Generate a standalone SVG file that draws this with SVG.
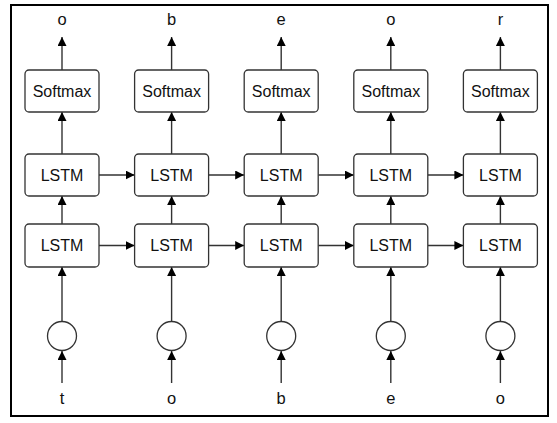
<svg xmlns="http://www.w3.org/2000/svg" width="557" height="423" viewBox="0 0 557 423">
<defs>
<marker id="ah" viewBox="0 0 10 10" refX="10" refY="5" markerWidth="9" markerHeight="9" markerUnits="userSpaceOnUse" orient="auto">
<path d="M0,0 L10,5 L0,10 z" fill="#000"/>
</marker>
<style>
.box{fill:#fff;stroke:#333;stroke-width:1.3}
.lbl{font-family:"Liberation Sans",Arial,sans-serif;font-size:16px;fill:#111;text-anchor:middle}
.io{font-family:"Liberation Sans",Arial,sans-serif;font-size:16.5px;fill:#111;text-anchor:middle}
.c{fill:none;stroke:#333;stroke-width:1.4;marker-end:url(#ah)}
</style>
</defs>
<rect x="0" y="0" width="557" height="423" fill="#fff"/>
<rect x="11" y="5" width="537" height="411" fill="none" stroke="#000" stroke-width="2"/>
<g id="connectors">
<path class="c" d="M62,70 V37"/><path class="c" d="M171.6,70 V37"/><path class="c" d="M281.2,70 V37"/><path class="c" d="M390.8,70 V37"/><path class="c" d="M500.4,70 V37"/>
<path class="c" d="M62,154 V112"/><path class="c" d="M171.6,154 V112"/><path class="c" d="M281.2,154 V112"/><path class="c" d="M390.8,154 V112"/><path class="c" d="M500.4,154 V112"/>
<path class="c" d="M62,224 V196"/><path class="c" d="M171.6,224 V196"/><path class="c" d="M281.2,224 V196"/><path class="c" d="M390.8,224 V196"/><path class="c" d="M500.4,224 V196"/>
<path class="c" d="M62,321 V267"/><path class="c" d="M171.6,321 V267"/><path class="c" d="M281.2,321 V267"/><path class="c" d="M390.8,321 V267"/><path class="c" d="M500.4,321 V267"/>
<path class="c" d="M62,383 V351"/><path class="c" d="M171.6,383 V351"/><path class="c" d="M281.2,383 V351"/><path class="c" d="M390.8,383 V351"/><path class="c" d="M500.4,383 V351"/>
<path class="c" d="M99,175 H134.6"/><path class="c" d="M208.6,175 H244.2"/><path class="c" d="M318.2,175 H353.8"/><path class="c" d="M427.8,175 H463.4"/>
<path class="c" d="M99,245.5 H134.6"/><path class="c" d="M208.6,245.5 H244.2"/><path class="c" d="M318.2,245.5 H353.8"/><path class="c" d="M427.8,245.5 H463.4"/>
</g>
<g id="out1"><text class="io" x="62" y="25">o</text></g>
<g id="out2"><text class="io" x="171.6" y="25">b</text></g>
<g id="out3"><text class="io" x="281.2" y="25">e</text></g>
<g id="out4"><text class="io" x="390.8" y="25">o</text></g>
<g id="out5"><text class="io" x="500.4" y="25">r</text></g>
<g id="softmax1"><rect class="box" x="25" y="70" width="74" height="42" rx="4"/><text class="lbl" x="62" y="96.5">Softmax</text></g>
<g id="softmax2"><rect class="box" x="134.6" y="70" width="74" height="42" rx="4"/><text class="lbl" x="171.6" y="96.5">Softmax</text></g>
<g id="softmax3"><rect class="box" x="244.2" y="70" width="74" height="42" rx="4"/><text class="lbl" x="281.2" y="96.5">Softmax</text></g>
<g id="softmax4"><rect class="box" x="353.8" y="70" width="74" height="42" rx="4"/><text class="lbl" x="390.8" y="96.5">Softmax</text></g>
<g id="softmax5"><rect class="box" x="463.4" y="70" width="74" height="42" rx="4"/><text class="lbl" x="500.4" y="96.5">Softmax</text></g>
<g id="lstm2_1"><rect class="box" x="25" y="154" width="74" height="42" rx="4"/><text class="lbl" x="62" y="180.5">LSTM</text></g>
<g id="lstm2_2"><rect class="box" x="134.6" y="154" width="74" height="42" rx="4"/><text class="lbl" x="171.6" y="180.5">LSTM</text></g>
<g id="lstm2_3"><rect class="box" x="244.2" y="154" width="74" height="42" rx="4"/><text class="lbl" x="281.2" y="180.5">LSTM</text></g>
<g id="lstm2_4"><rect class="box" x="353.8" y="154" width="74" height="42" rx="4"/><text class="lbl" x="390.8" y="180.5">LSTM</text></g>
<g id="lstm2_5"><rect class="box" x="463.4" y="154" width="74" height="42" rx="4"/><text class="lbl" x="500.4" y="180.5">LSTM</text></g>
<g id="lstm1_1"><rect class="box" x="25" y="224" width="74" height="43" rx="4"/><text class="lbl" x="62" y="251">LSTM</text></g>
<g id="lstm1_2"><rect class="box" x="134.6" y="224" width="74" height="43" rx="4"/><text class="lbl" x="171.6" y="251">LSTM</text></g>
<g id="lstm1_3"><rect class="box" x="244.2" y="224" width="74" height="43" rx="4"/><text class="lbl" x="281.2" y="251">LSTM</text></g>
<g id="lstm1_4"><rect class="box" x="353.8" y="224" width="74" height="43" rx="4"/><text class="lbl" x="390.8" y="251">LSTM</text></g>
<g id="lstm1_5"><rect class="box" x="463.4" y="224" width="74" height="43" rx="4"/><text class="lbl" x="500.4" y="251">LSTM</text></g>
<g id="emb1"><circle class="box" cx="62" cy="336" r="14.5"/></g>
<g id="emb2"><circle class="box" cx="171.6" cy="336" r="14.5"/></g>
<g id="emb3"><circle class="box" cx="281.2" cy="336" r="14.5"/></g>
<g id="emb4"><circle class="box" cx="390.8" cy="336" r="14.5"/></g>
<g id="emb5"><circle class="box" cx="500.4" cy="336" r="14.5"/></g>
<g id="in1"><text class="io" x="62" y="404">t</text></g>
<g id="in2"><text class="io" x="171.6" y="404">o</text></g>
<g id="in3"><text class="io" x="281.2" y="404">b</text></g>
<g id="in4"><text class="io" x="390.8" y="404">e</text></g>
<g id="in5"><text class="io" x="500.4" y="404">o</text></g>
</svg>
